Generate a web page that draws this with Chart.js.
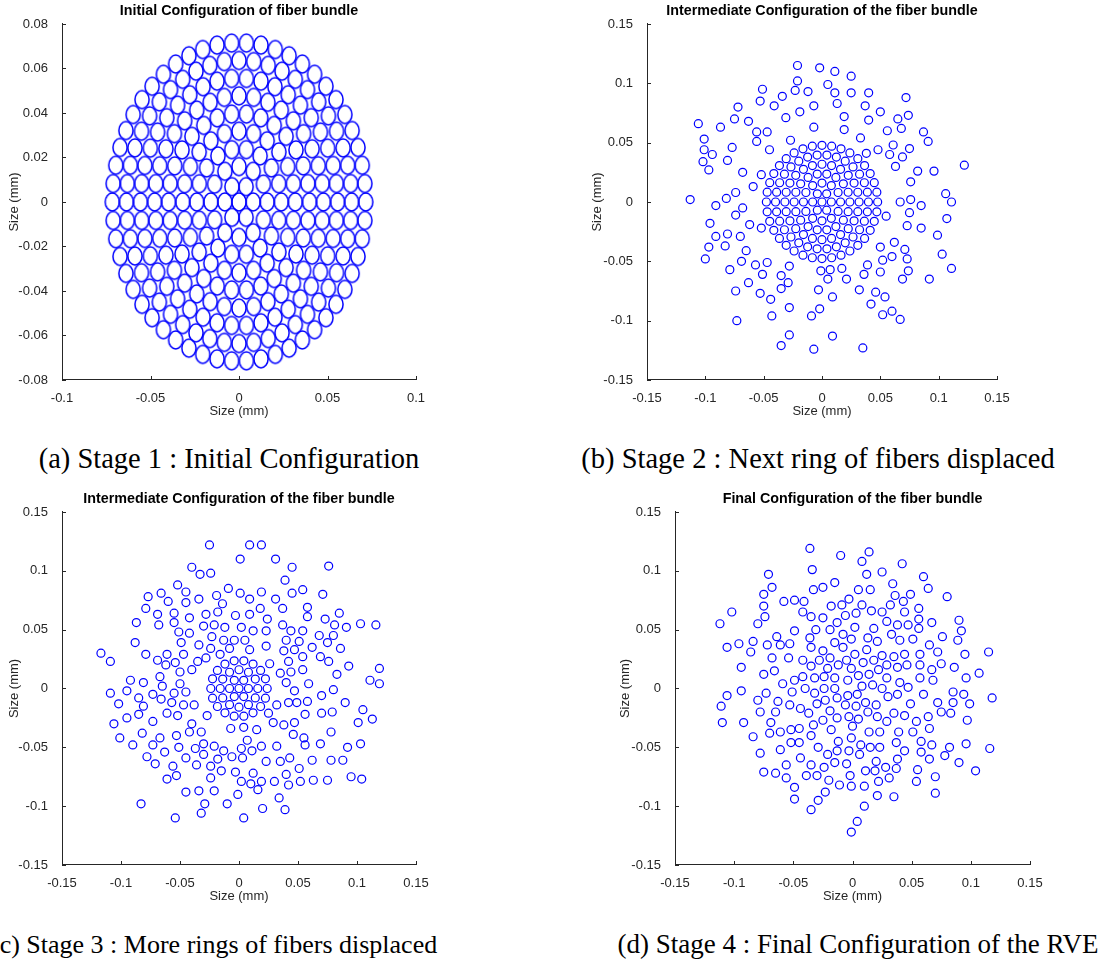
<!DOCTYPE html>
<html>
<head>
<meta charset="utf-8">
<script src="https://cdn.jsdelivr.net/npm/chart.js@4.4.0/dist/chart.umd.min.js"></script>
<style>
  html, body { margin: 0; padding: 0; background: #fff; }
  body { width: 1108px; height: 962px; position: relative; overflow: hidden; }
  .panel { position: absolute; }
  .caption {
    position: absolute; white-space: nowrap; line-height: 1;
    font-family: "Liberation Serif", "Times New Roman", serif; font-size: 27px; color: #000;
  }
</style>
</head>
<body>
<div class="panel" style="left:0;top:0"><canvas id="chartA" width="440" height="428"></canvas></div>
<div class="panel" style="left:580px;top:0"><canvas id="chartB" width="440" height="428"></canvas></div>
<div class="panel" style="left:0;top:488px"><canvas id="chartC" width="440" height="425"></canvas></div>
<div class="panel" style="left:608px;top:488px"><canvas id="chartD" width="445" height="425"></canvas></div>

<div class="caption" style="left:-71px;width:600px;text-align:center;top:445px;font-size:28.5px">(a) Stage 1 : Initial Configuration</div>
<div class="caption" style="left:518px;width:600px;text-align:center;top:445px;font-size:28.5px">(b) Stage 2 : Next ring of fibers displaced</div>
<div class="caption" style="left:-9px;top:932px;font-size:26px">(c) Stage 3 : More rings of fibers displaced</div>
<div class="caption" style="left:558px;width:600px;text-align:center;top:931px">(d) Stage 4 : Final Configuration of the RVE</div>

<script>
/* ---------- fibre rings of the initial bundle (mm) ---------- */
const ring0 = [[0, 0]];
const ring1 = [[0.0080,0],[0.0040,0.0069],[-0.0040,0.0069],[-0.0080,0],[-0.0040,-0.0069],[0.0040,-0.0069]];
const ring2 = [[0.0159,0],[0.0138,0.0080],[0.0080,0.0138],[0,0.0159],[-0.0080,0.0138],[-0.0138,0.0080],
  [-0.0159,0],[-0.0138,-0.0080],[-0.0080,-0.0138],[0,-0.0159],[0.0080,-0.0138],[0.0138,-0.0080]];
const ring3 = [[0.0239,0],[0.0224,0.0082],[0.0183,0.0153],[0.0119,0.0207],[0.0041,0.0235],[-0.0041,0.0235],
  [-0.0119,0.0207],[-0.0183,0.0153],[-0.0224,0.0082],[-0.0239,0],[-0.0224,-0.0082],[-0.0183,-0.0153],
  [-0.0119,-0.0207],[-0.0041,-0.0235],[0.0041,-0.0235],[0.0119,-0.0207],[0.0183,-0.0153],[0.0224,-0.0082]];
const ring4 = [[0.0318,0],[0.0307,0.0082],[0.0275,0.0159],[0.0225,0.0225],[0.0159,0.0275],[0.0082,0.0307],
  [0,0.0318],[-0.0082,0.0307],[-0.0159,0.0275],[-0.0225,0.0225],[-0.0275,0.0159],[-0.0307,0.0082],
  [-0.0318,0],[-0.0307,-0.0082],[-0.0275,-0.0159],[-0.0225,-0.0225],[-0.0159,-0.0275],[-0.0082,-0.0307],
  [0,-0.0318],[0.0082,-0.0307],[0.0159,-0.0275],[0.0225,-0.0225],[0.0275,-0.0159],[0.0307,-0.0082]];
const ring5 = [[0.0398,0],[0.0389,0.0083],[0.0363,0.0162],[0.0322,0.0234],[0.0266,0.0295],[0.0199,0.0344],
  [0.0123,0.0378],[0.0042,0.0395],[-0.0042,0.0395],[-0.0123,0.0378],[-0.0199,0.0344],[-0.0266,0.0295],
  [-0.0322,0.0234],[-0.0363,0.0162],[-0.0389,0.0083],[-0.0398,0],[-0.0389,-0.0083],[-0.0363,-0.0162],
  [-0.0322,-0.0234],[-0.0266,-0.0295],[-0.0199,-0.0344],[-0.0123,-0.0378],[-0.0042,-0.0395],[0.0042,-0.0395],
  [0.0123,-0.0378],[0.0199,-0.0344],[0.0266,-0.0295],[0.0322,-0.0234],[0.0363,-0.0162],[0.0389,-0.0083]];
const ring6 = [[0.0477,0],[0.0470,0.0083],[0.0448,0.0163],[0.0413,0.0239],[0.0365,0.0307],[0.0307,0.0365],
  [0.0239,0.0413],[0.0163,0.0448],[0.0083,0.0470],[0,0.0477],[-0.0083,0.0470],[-0.0163,0.0448],
  [-0.0239,0.0413],[-0.0307,0.0365],[-0.0365,0.0307],[-0.0413,0.0239],[-0.0448,0.0163],[-0.0470,0.0083],
  [-0.0477,0],[-0.0470,-0.0083],[-0.0448,-0.0163],[-0.0413,-0.0239],[-0.0365,-0.0307],[-0.0307,-0.0365],
  [-0.0239,-0.0413],[-0.0163,-0.0448],[-0.0083,-0.0470],[0,-0.0477],[0.0083,-0.0470],[0.0163,-0.0448],
  [0.0239,-0.0413],[0.0307,-0.0365],[0.0365,-0.0307],[0.0413,-0.0239],[0.0448,-0.0163],[0.0470,-0.0083]];
const ring7 = [[0.0557,0],[0.0550,0.0083],[0.0532,0.0164],[0.0501,0.0242],[0.0460,0.0314],[0.0408,0.0379],
  [0.0347,0.0435],[0.0278,0.0482],[0.0203,0.0518],[0.0124,0.0543],[0.0042,0.0555],[-0.0042,0.0555],
  [-0.0124,0.0543],[-0.0203,0.0518],[-0.0278,0.0482],[-0.0347,0.0435],[-0.0408,0.0379],[-0.0460,0.0314],
  [-0.0501,0.0242],[-0.0532,0.0164],[-0.0550,0.0083],[-0.0557,0],[-0.0550,-0.0083],[-0.0532,-0.0164],
  [-0.0501,-0.0242],[-0.0460,-0.0314],[-0.0408,-0.0379],[-0.0347,-0.0435],[-0.0278,-0.0482],[-0.0203,-0.0518],
  [-0.0124,-0.0543],[-0.0042,-0.0555],[0.0042,-0.0555],[0.0124,-0.0543],[0.0203,-0.0518],[0.0278,-0.0482],
  [0.0347,-0.0435],[0.0408,-0.0379],[0.0460,-0.0314],[0.0501,-0.0242],[0.0532,-0.0164],[0.0550,-0.0083]];
const ring8 = [[0.0636,0],[0.0631,0.0083],[0.0614,0.0165],[0.0588,0.0243],[0.0551,0.0318],[0.0505,0.0387],
  [0.0450,0.0450],[0.0387,0.0505],[0.0318,0.0551],[0.0243,0.0588],[0.0165,0.0614],[0.0083,0.0631],[0,0.0636],
  [-0.0083,0.0631],[-0.0165,0.0614],[-0.0243,0.0588],[-0.0318,0.0551],[-0.0387,0.0505],[-0.0450,0.0450],
  [-0.0505,0.0387],[-0.0551,0.0318],[-0.0588,0.0243],[-0.0614,0.0165],[-0.0631,0.0083],[-0.0636,0],
  [-0.0631,-0.0083],[-0.0614,-0.0165],[-0.0588,-0.0243],[-0.0551,-0.0318],[-0.0505,-0.0387],[-0.0450,-0.0450],
  [-0.0387,-0.0505],[-0.0318,-0.0551],[-0.0243,-0.0588],[-0.0165,-0.0614],[-0.0083,-0.0631],[0,-0.0636],
  [0.0083,-0.0631],[0.0165,-0.0614],[0.0243,-0.0588],[0.0318,-0.0551],[0.0387,-0.0505],[0.0450,-0.0450],
  [0.0505,-0.0387],[0.0551,-0.0318],[0.0588,-0.0243],[0.0614,-0.0165],[0.0631,-0.0083]];
const ring9 = [[0.0716,0],[0.0711,0.0083],[0.0696,0.0165],[0.0672,0.0245],[0.0639,0.0321],[0.0598,0.0393],
  [0.0548,0.0460],[0.0491,0.0520],[0.0427,0.0574],[0.0358,0.0620],[0.0283,0.0657],[0.0205,0.0685],
  [0.0124,0.0705],[0.0042,0.0714],[-0.0042,0.0714],[-0.0124,0.0705],[-0.0205,0.0685],[-0.0283,0.0657],
  [-0.0358,0.0620],[-0.0427,0.0574],[-0.0491,0.0520],[-0.0548,0.0460],[-0.0598,0.0393],[-0.0639,0.0321],
  [-0.0672,0.0245],[-0.0696,0.0165],[-0.0711,0.0083],[-0.0716,0],[-0.0711,-0.0083],[-0.0696,-0.0165],
  [-0.0672,-0.0245],[-0.0639,-0.0321],[-0.0598,-0.0393],[-0.0548,-0.0460],[-0.0491,-0.0520],[-0.0427,-0.0574],
  [-0.0358,-0.0620],[-0.0283,-0.0657],[-0.0205,-0.0685],[-0.0124,-0.0705],[-0.0042,-0.0714],[0.0042,-0.0714],
  [0.0124,-0.0705],[0.0205,-0.0685],[0.0283,-0.0657],[0.0358,-0.0620],[0.0427,-0.0574],[0.0491,-0.0520],
  [0.0548,-0.0460],[0.0598,-0.0393],[0.0639,-0.0321],[0.0672,-0.0245],[0.0696,-0.0165],[0.0711,-0.0083]];

/* ---------- displaced fibres, stage 2 (outer three rings moved) ---------- */
const stage2Moved = [
  [-0.021,0.115],[-0.002,0.113],[0.011,0.110],[0.025,0.106],[-0.021,0.102],[0.005,0.099],[-0.051,0.095],
  [-0.023,0.094],[-0.012,0.093],[0.011,0.092],[0.025,0.092],[0.040,0.092],[0.072,0.088],[-0.053,0.085],
  [-0.034,0.089],[-0.041,0.081],[-0.007,0.081],[0.013,0.083],[0.037,0.081],[-0.072,0.080],[-0.019,0.076],
  [0.050,0.076],[0.074,0.073],[0.019,0.072],[0.040,0.069],[0.065,0.070],[-0.075,0.070],[-0.063,0.068],
  [-0.031,0.071],[-0.106,0.066],[-0.087,0.063],[-0.007,0.063],[0.019,0.061],[0.056,0.060],[0.068,0.062],
  [0.087,0.059],[-0.056,0.059],[-0.047,0.059],[-0.056,0.051],[-0.101,0.053],[-0.027,0.052],[0.033,0.054],
  [0.091,0.051],[0.061,0.048],[-0.077,0.046],[-0.101,0.044],[-0.045,0.044],[0.075,0.045],[0.048,0.044],
  [-0.094,0.040],[-0.102,0.034],[-0.081,0.035],[-0.097,0.027],[-0.068,0.025],[-0.052,0.023],[-0.059,0.013],
  [-0.074,0.008],[-0.082,0.003],[-0.113,0.002],[-0.091,-0.003],[-0.068,-0.005],[-0.074,-0.011],[-0.096,-0.018],
  [-0.062,-0.019],[-0.052,-0.022],[-0.081,-0.027],[-0.091,-0.029],[-0.070,-0.029],[-0.083,-0.037],
  [-0.097,-0.038],[-0.065,-0.041],
  [0.058,0.040],[0.069,0.038],[0.038,0.041],[0.122,0.031],[0.082,0.026],[0.096,0.026],[0.063,0.030],
  [0.076,0.017],[0.106,0.007],[0.111,0.000],[0.067,0.000],[0.076,0.002],[0.085,-0.003],[0.075,-0.009],
  [0.055,-0.012],[0.107,-0.014],[0.073,-0.020],[0.085,-0.022],[0.099,-0.028],[0.062,-0.034],[0.050,-0.038],
  [0.071,-0.040],[0.103,-0.044],[0.060,-0.046],
  [-0.100,-0.048],[-0.069,-0.050],[-0.079,-0.057],[-0.057,-0.053],[-0.047,-0.051],[-0.028,-0.054],
  [-0.051,-0.061],[-0.035,-0.062],[-0.063,-0.068],[-0.029,-0.068],[-0.035,-0.073],[-0.074,-0.075],
  [-0.053,-0.077],[-0.044,-0.082],[-0.028,-0.089],[-0.043,-0.096],[-0.073,-0.100],[-0.028,-0.112],
  [-0.035,-0.121],[-0.007,-0.124],[0.009,-0.113],[0.035,-0.123],[-0.009,-0.096],[-0.002,-0.090],
  [-0.003,-0.074],[0.009,-0.080],[-0.001,-0.058],[0.007,-0.057],[0.005,-0.065],[0.017,-0.056],[0.021,-0.065],
  [0.032,-0.074],[0.039,-0.053],[0.036,-0.061],[0.050,-0.059],[0.052,-0.049],[0.073,-0.048],[0.074,-0.058],
  [0.069,-0.065],[0.092,-0.065],[0.111,-0.056],[0.046,-0.076],[0.054,-0.080],[0.042,-0.086],[0.052,-0.095],
  [0.060,-0.092],[0.067,-0.099]
];

/* ---------- displaced fibres, stage 3 (rings 4..9 moved) ---------- */
const stage3Moved = [
  [-0.025,0.122],[0.009,0.122],[0.019,0.122],[0.001,0.110],[0.031,0.110],[0.045,0.103],[0.076,0.104],
  [-0.040,0.103],[-0.033,0.097],[-0.024,0.098],[0.039,0.092],[-0.052,0.088],[-0.009,0.085],[-0.045,0.082],
  [-0.066,0.081],[-0.077,0.078],[-0.034,0.076],[-0.019,0.079],[0.001,0.081],[0.009,0.076],[0.019,0.082],
  [0.031,0.076],[0.045,0.081],[0.054,0.084],[0.071,0.080],[-0.060,0.074],[-0.045,0.073],[-0.014,0.072],
  [-0.079,0.068],[0.018,0.068],[0.037,0.068],[0.058,0.069],[-0.069,0.063],[-0.055,0.064],[-0.028,0.063],
  [-0.018,0.065],[-0.003,0.062],[0.009,0.063],[0.024,0.059],[0.058,0.061],[0.073,0.059],[0.085,0.064],
  [-0.087,0.056],[-0.068,0.054],[-0.055,0.056],[-0.042,0.060],[-0.030,0.053],[-0.021,0.054],[-0.012,0.052],
  [0.002,0.052],[0.037,0.054],[0.081,0.054],[0.091,0.052],[0.103,0.055],[0.116,0.054],[0.044,0.049],
  [0.054,0.049],[-0.051,0.048],[-0.042,0.047],[0.012,0.049],[0.023,0.049],
  [-0.023,0.044],[-0.004,0.041],[0.005,0.041],[-0.013,0.041],[0.023,0.036],[0.040,0.041],[0.051,0.040],
  [0.068,0.045],[0.080,0.045],[0.075,0.039],[0.086,0.034],[-0.088,0.039],[-0.049,0.039],[-0.034,0.037],
  [-0.024,0.034],[-0.117,0.030],[-0.109,0.023],[-0.079,0.029],[-0.069,0.024],[-0.061,0.029],[-0.062,0.020],
  [-0.054,0.022],[-0.047,0.029],[-0.040,0.016],[-0.035,0.023],[-0.028,0.026],[-0.016,0.029],[-0.008,0.034],
  [0.009,0.033],[0.038,0.032],[0.047,0.033],[0.054,0.027],[0.042,0.023],[0.062,0.035],[0.069,0.027],
  [0.076,0.023],[0.093,0.019],[0.119,0.017],[0.026,0.021],[0.035,0.013],[0.044,0.014],[0.054,0.016],
  [0.083,0.012],[0.111,0.007],[0.119,0.004],[0.040,0.005],[0.059,0.004],[0.047,-0.002],[0.080,-0.001],
  [0.070,-0.006],[0.042,-0.012],[0.049,-0.012],[0.058,-0.011],[0.090,-0.012],[0.032,-0.014],[0.105,-0.018],
  [0.070,-0.021],[0.079,-0.020],[0.056,-0.022],[0.025,-0.021],[0.113,-0.026],[0.101,-0.029],[0.047,-0.029],
  [0.029,-0.029],[0.038,-0.031],[0.015,-0.035],[0.004,-0.033],[-0.007,-0.034],[0.078,-0.037],[0.046,-0.039],
  [0.055,-0.042],
  [-0.092,0.007],[-0.081,0.005],[-0.067,0.010],[-0.065,0.002],[-0.050,0.014],[-0.050,0.004],[-0.109,-0.004],
  [-0.095,-0.002],[-0.073,-0.005],[-0.055,-0.004],[-0.045,-0.003],[-0.085,-0.008],[-0.066,-0.009],
  [-0.102,-0.013],[-0.081,-0.015],[-0.057,-0.012],[-0.047,-0.014],[-0.038,-0.014],[-0.085,-0.022],
  [-0.061,-0.021],[-0.052,-0.023],[-0.027,-0.023],[-0.095,-0.025],[-0.073,-0.028],[-0.106,-0.030],
  [-0.040,-0.030],[-0.082,-0.038],[-0.067,-0.042],[-0.053,-0.040],[-0.042,-0.037],[-0.032,-0.037],
  [-0.101,-0.042],
  [-0.090,-0.048],[-0.073,-0.048],[-0.051,-0.050],[-0.063,-0.054],[-0.078,-0.058],[-0.071,-0.064],
  [-0.045,-0.059],[-0.037,-0.051],[-0.030,-0.047],[-0.030,-0.056],[-0.021,-0.049],[-0.013,-0.053],
  [-0.018,-0.060],[-0.006,-0.058],[0.003,-0.059],[0.002,-0.051],[0.007,-0.044],[0.011,-0.053],[0.019,-0.049],
  [0.032,-0.049],[0.023,-0.062],[0.035,-0.062],[0.043,-0.059],[0.051,-0.068],[0.062,-0.061],[0.078,-0.061],
  [0.088,-0.061],[0.056,-0.048],[0.069,-0.047],[0.092,-0.050],[0.103,-0.047],[-0.056,-0.066],[-0.053,-0.074],
  [-0.061,-0.077],[-0.036,-0.065],[-0.024,-0.066],[-0.015,-0.070],[-0.024,-0.076],[-0.003,-0.071],
  [0.012,-0.072],[0.002,-0.079],[0.010,-0.081],[0.019,-0.079],[0.016,-0.086],[0.030,-0.079],[0.040,-0.073],
  [0.042,-0.082],[0.052,-0.079],[0.063,-0.078],[0.075,-0.078],[0.095,-0.075],[0.104,-0.077],[-0.045,-0.088],
  [-0.034,-0.087],[-0.021,-0.087],[-0.001,-0.090],[0.034,-0.093],[-0.083,-0.098],[-0.029,-0.098],
  [-0.010,-0.098],[0.020,-0.102],[0.039,-0.103],[-0.032,-0.106],[-0.054,-0.110],[0.004,-0.110]
];

/* ---------- final RVE, stage 4 (all fibres moved) ---------- */
const stage4Fibers = [
  [-0.036,0.119],[-0.010,0.113],[0.014,0.116],[0.008,0.108],[0.042,0.106],[-0.034,0.101],[0.012,0.097],
  [0.025,0.099],[-0.071,0.097],[0.060,0.095],[0.034,0.089],[-0.068,0.086],[-0.015,0.090],[-0.025,0.086],
  [-0.033,0.084],[0.005,0.084],[0.015,0.084],[0.064,0.085],[-0.075,0.080],[0.036,0.079],[0.049,0.080],
  [0.080,0.078],[-0.058,0.074],[-0.049,0.075],[-0.041,0.074],[-0.003,0.076],[0.043,0.074],[-0.075,0.070],
  [-0.018,0.070],[-0.009,0.071],[0.008,0.071],[0.032,0.071],[0.056,0.068],[-0.102,0.065],[-0.042,0.065],
  [0.016,0.066],[0.025,0.065],[0.044,0.065],[-0.074,0.061],[-0.035,0.061],[-0.025,0.060],[-0.006,0.062],
  [0.003,0.064],[0.056,0.059],[-0.112,0.055],[-0.080,0.055],[0.029,0.057],[0.038,0.054],[-0.013,0.056],
  [0.002,0.052],[0.047,0.054],[0.067,0.056],[0.090,0.058],[-0.049,0.049],[-0.031,0.050],[-0.019,0.050],
  [0.018,0.051],[0.056,0.051],[0.092,0.049],
  [-0.064,0.044],[-0.036,0.043],[-0.008,0.046],[-0.001,0.042],[0.013,0.043],[0.033,0.046],[0.021,0.040],
  [0.040,0.041],[0.051,0.042],[0.076,0.044],[0.089,0.041],[-0.106,0.035],[-0.096,0.038],[-0.084,0.040],
  [-0.086,0.031],[-0.072,0.037],[-0.061,0.037],[-0.053,0.038],[-0.035,0.035],[-0.025,0.032],[-0.015,0.039],
  [-0.008,0.035],[0.012,0.033],[0.065,0.037],[0.072,0.031],[0.095,0.029],[0.115,0.031],[-0.068,0.026],
  [-0.054,0.026],[-0.042,0.024],[-0.028,0.024],[-0.019,0.026],[-0.005,0.024],[0.002,0.029],[0.009,0.022],
  [0.018,0.024],[0.025,0.028],[0.035,0.027],[0.044,0.029],[0.057,0.029],[0.057,0.020],[0.075,0.021],
  [0.067,0.016],[0.086,0.018],[0.107,0.013],[-0.094,0.018],[-0.066,0.015],[-0.075,0.012],[-0.035,0.019],
  [-0.021,0.017],[-0.012,0.020],[-0.001,0.017],[0.022,0.016],[0.029,0.020],[0.038,0.018],[0.046,0.020],
  [-0.049,0.007],[-0.042,0.010],[-0.032,0.009],[-0.024,0.010],[-0.015,0.009],[-0.004,0.007],[0.005,0.011],
  [0.014,0.012],[0.029,0.009],[0.040,0.005],[0.057,0.009],[0.068,0.007],[0.096,0.009],[-0.059,0.004],
  [-0.094,-0.002],[-0.106,-0.006],[-0.111,-0.015],[-0.110,-0.029],[-0.092,-0.029],[-0.073,-0.004],
  [-0.080,-0.010],[-0.051,-0.003],[-0.040,0.000],[-0.032,-0.004],[-0.024,0.000],[-0.015,0.000],
  [-0.004,-0.006],[0.004,-0.005],[0.008,0.002],[0.017,0.003],[0.025,0.000],[0.030,-0.007],[0.038,-0.005],
  [0.047,0.001],[0.060,-0.005],[0.085,-0.003],[0.094,-0.005],[0.118,-0.008],[-0.063,-0.011],[-0.053,-0.014],
  [-0.044,-0.017],[-0.030,-0.013],[-0.023,-0.010],[-0.013,-0.008],[-0.006,-0.014],[0.003,-0.015],
  [0.011,-0.012],[0.020,-0.014],[0.049,-0.013],[0.072,-0.012],[0.085,-0.012],[0.099,-0.013],[-0.078,-0.020],
  [-0.065,-0.020],[-0.037,-0.021],[-0.019,-0.019],[0.013,-0.020],[0.035,-0.021],[0.044,-0.023],[0.075,-0.020],
  [0.083,-0.021],[-0.069,-0.029],[-0.045,-0.034],[-0.033,-0.031],[-0.025,-0.027],[-0.013,-0.025],
  [-0.003,-0.024],[0.005,-0.026],[0.021,-0.024],[0.029,-0.028],[0.054,-0.028],[0.064,-0.024],[0.097,-0.027],
  [-0.070,-0.038],[-0.061,-0.037],[-0.052,-0.035],[-0.035,-0.040],[-0.018,-0.035],[0.000,-0.032],
  [0.014,-0.037],[0.023,-0.037],[0.039,-0.037],[0.051,-0.037],[0.065,-0.034],[-0.084,-0.041],[-0.001,-0.042],
  [-0.052,-0.046],[-0.045,-0.046],[-0.012,-0.045],[0.007,-0.048],[0.015,-0.050],[0.023,-0.050],[0.037,-0.046],
  [0.044,-0.053],[0.058,-0.045],[0.067,-0.048],[0.082,-0.050],[0.096,-0.047],[0.116,-0.051],[-0.078,-0.055],
  [-0.061,-0.052],[-0.029,-0.050],[-0.021,-0.056],[-0.013,-0.053],[-0.003,-0.053],[0.006,-0.056],
  [0.058,-0.054],[0.065,-0.060],[0.078,-0.057],[0.090,-0.063],[-0.056,-0.065],[-0.044,-0.059],[-0.035,-0.065],
  [-0.024,-0.067],[-0.015,-0.063],[-0.005,-0.064],[0.020,-0.062],[0.028,-0.067],[0.037,-0.068],[0.038,-0.060],
  [0.019,-0.070],[0.011,-0.070],[-0.002,-0.074],[-0.075,-0.071],[-0.065,-0.072],[-0.056,-0.076],
  [-0.049,-0.084],[-0.039,-0.074],[-0.030,-0.074],[-0.020,-0.078],[-0.011,-0.082],[-0.001,-0.083],
  [0.010,-0.083],[0.022,-0.079],[0.031,-0.076],[0.055,-0.069],[0.054,-0.079],[0.070,-0.075],[0.104,-0.070],
  [-0.049,-0.094],[-0.029,-0.095],[-0.023,-0.088],[-0.035,-0.103],[0.021,-0.091],[0.035,-0.092],
  [0.070,-0.089],[0.010,-0.100],[0.004,-0.113],[-0.001,-0.122]
];

/* ---------- axes ---------- */
const xTicksA = [-0.1, -0.05, 0, 0.05, 0.1];
const yTicksA = [-0.08, -0.06, -0.04, -0.02, 0, 0.02, 0.04, 0.06, 0.08];
const ticksWide = [-0.15, -0.1, -0.05, 0, 0.05, 0.1, 0.15];

const titles = [
  'Initial Configuration of fiber bundle',
  'Intermediate Configuration of the fiber bundle',
  'Intermediate Configuration of the fiber bundle',
  'Final Configuration of the fiber bundle'
];

/* ---------- look ---------- */
const FONT = '"Liberation Sans", Arial, Helvetica, sans-serif';
const AXIS_COLOR = '#262626';
const FIBER_COLOR = '#0000ff';
const FIBER_R = 0.0040;          // drawn fibre radius in panel (a), mm
const TICK_LEN = 4;

const stageA = [...ring0, ...ring1, ...ring2, ...ring3, ...ring4, ...ring5, ...ring6, ...ring7, ...ring8, ...ring9];
const stageB = [...ring0, ...ring1, ...ring2, ...ring3, ...ring4, ...ring5, ...ring6, ...stage2Moved];
const stageC = [...ring0, ...ring1, ...ring2, ...ring3, ...stage3Moved];
const stageD = stage4Fibers;

function fmtTick(v) { return String(Math.round(v * 1000) / 1000); }
function toXY(pts) { return pts.map(p => ({ x: p[0], y: p[1] })); }

// fibres in (a) are true circles, so they show as ellipses on unequal axes
function ellipseMarker(rx, ry, lw) {
  const c = document.createElement('canvas');
  c.width = Math.ceil(2 * rx + lw + 2);
  c.height = Math.ceil(2 * ry + lw + 2);
  const g = c.getContext('2d');
  g.strokeStyle = FIBER_COLOR;
  g.lineWidth = lw;
  g.beginPath();
  g.ellipse(c.width / 2, c.height / 2, rx, ry, 0, 0, 2 * Math.PI);
  g.stroke();
  return c;
}

// MATLAB style ticks pointing into the plot
const inwardTicks = {
  id: 'inwardTicks',
  afterDraw(chart) {
    const { ctx, chartArea: a, scales: { x, y } } = chart;
    ctx.save();
    ctx.strokeStyle = AXIS_COLOR;
    ctx.lineWidth = 1;
    ctx.beginPath();
    x.ticks.forEach(t => {
      const px = Math.round(x.getPixelForValue(t.value)) + 0.5;
      ctx.moveTo(px, a.bottom); ctx.lineTo(px, a.bottom - TICK_LEN);
    });
    y.ticks.forEach(t => {
      const py = Math.round(y.getPixelForValue(t.value)) + 0.5;
      ctx.moveTo(a.left, py); ctx.lineTo(a.left + TICK_LEN, py);
    });
    ctx.stroke();
    ctx.restore();
  }
};

function makePanel(id, o) {
  return new Chart(document.getElementById(id), {
    type: 'scatter',
    data: { datasets: [Object.assign({ data: toXY(o.points) }, o.marker)] },
    options: {
      responsive: false,
      animation: false,
      events: [],
      layout: { padding: { left: 0, top: 0, right: o.padRight, bottom: 0 } },
      plugins: {
        legend: { display: false },
        tooltip: { enabled: false },
        title: {
          display: true, text: o.title, fullSize: false, color: '#000',
          font: { family: FONT, size: 14.3, weight: 'bold' },
          padding: { top: 2.4, bottom: 4.4 }
        }
      },
      scales: {
        x: {
          type: 'linear', min: o.xTicks[0], max: o.xTicks[o.xTicks.length - 1],
          grid: { display: false },
          border: { display: true, color: AXIS_COLOR, width: 1 },
          afterBuildTicks: s => { s.ticks = o.xTicks.map(v => ({ value: v })); },
          afterFit: s => { s.height = 48; },
          ticks: { callback: fmtTick, color: AXIS_COLOR, autoSkip: false, maxRotation: 0, padding: 3,
                   font: { family: FONT, size: 13 } },
          title: { display: true, text: 'Size (mm)', color: AXIS_COLOR,
                   font: { family: FONT, size: 13 }, padding: { top: 0, bottom: 9.2 } }
        },
        y: {
          type: 'linear', min: o.yTicks[0], max: o.yTicks[o.yTicks.length - 1],
          grid: { display: false },
          border: { display: true, color: AXIS_COLOR, width: 1 },
          afterBuildTicks: s => { s.ticks = o.yTicks.map(v => ({ value: v })); },
          afterFit: s => { s.width = o.yWidth; },
          ticks: { callback: fmtTick, color: AXIS_COLOR, autoSkip: false, padding: 6,
                   font: { family: FONT, size: 13 } },
          title: { display: true, text: 'Size (mm)', color: AXIS_COLOR,
                   font: { family: FONT, size: 13 }, padding: { top: o.yTitlePad, bottom: 0 } }
        }
      }
    },
    plugins: [inwardTicks]
  });
}

const smallCircle = {
  pointStyle: 'circle', pointRadius: 4, borderWidth: 1.2,
  borderColor: FIBER_COLOR, backgroundColor: 'rgba(0,0,0,0)'
};

// panel (a): plot box 354 x 356 px for 0.2 x 0.16 mm
const pxPerMmX = 354 / (xTicksA[4] - xTicksA[0]);
const pxPerMmY = 356 / (yTicksA[8] - yTicksA[0]);
const bigEllipse = {
  pointStyle: ellipseMarker(FIBER_R * pxPerMmX, FIBER_R * pxPerMmY, 1.5),
  pointRadius: 7, borderWidth: 0
};

makePanel('chartA', { points: stageA, marker: bigEllipse, title: titles[0],
  xTicks: xTicksA, yTicks: yTicksA, yWidth: 62, yTitlePad: 6.2, padRight: 24 });
makePanel('chartB', { points: stageB, marker: smallCircle, title: titles[1],
  xTicks: ticksWide, yTicks: ticksWide, yWidth: 67, yTitlePad: 9.2, padRight: 23 });
makePanel('chartC', { points: stageC, marker: smallCircle, title: titles[2],
  xTicks: ticksWide, yTicks: ticksWide, yWidth: 62, yTitlePad: 6.2, padRight: 24 });
makePanel('chartD', { points: stageD, marker: smallCircle, title: titles[3],
  xTicks: ticksWide, yTicks: ticksWide, yWidth: 67, yTitlePad: 9.2, padRight: 23 });
</script>
</body>
</html>
